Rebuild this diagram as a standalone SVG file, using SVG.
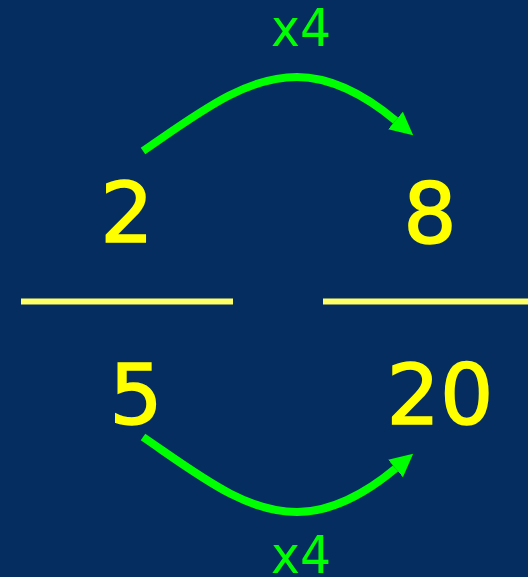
<svg xmlns="http://www.w3.org/2000/svg" width="528" height="577" viewBox="0 0 528 577">
<style>
.num{font-family:"DejaVu Sans","Liberation Sans",sans-serif;font-size:84px;fill:#FFFF00;text-anchor:middle;stroke:#FFFF00;stroke-width:1.5}
.lbl{font-family:"DejaVu Sans","Liberation Sans",sans-serif;font-size:52px;fill:#00FF00;text-anchor:middle}
.bar{stroke:#FFFF66;stroke-width:6}
.arc{fill:none;stroke:#00FF00;stroke-width:8;marker-end:url(#head)}
</style>
<defs>
<marker id="head" markerUnits="userSpaceOnUse" markerWidth="24" markerHeight="24" viewBox="0 0 24 24" refX="0" refY="11.5" orient="auto">
<path d="M0,0 L23,11.5 L0,23 z" fill="#00FF00"/>
</marker>
</defs>
<rect width="528" height="577" fill="#062D60"/>
<g id="connectors">
<path class="arc" d="M143,151 C200,112 245,77 297,77 C330,77 365,95 395.5,120.5"/>
<path class="arc" d="M143,437 C200,476 245,512 297,512 C330,512 365,494 395.5,468.5"/>
</g>
<g id="label-top"><text class="lbl" x="301" y="46" textLength="60" lengthAdjust="spacingAndGlyphs">x4</text></g>
<g id="label-bottom"><text class="lbl" x="301" y="573" textLength="60" lengthAdjust="spacingAndGlyphs">x4</text></g>
<g id="frac-left">
<text class="num" x="127" y="242">2</text>
<line class="bar" x1="21" y1="301.5" x2="233" y2="301.5"/>
<text class="num" x="136" y="424">5</text>
</g>
<g id="frac-right">
<text class="num" x="430" y="243">8</text>
<line class="bar" x1="323" y1="301.5" x2="528" y2="301.5"/>
<text class="num" x="440" y="424">20</text>
</g>
</svg>
